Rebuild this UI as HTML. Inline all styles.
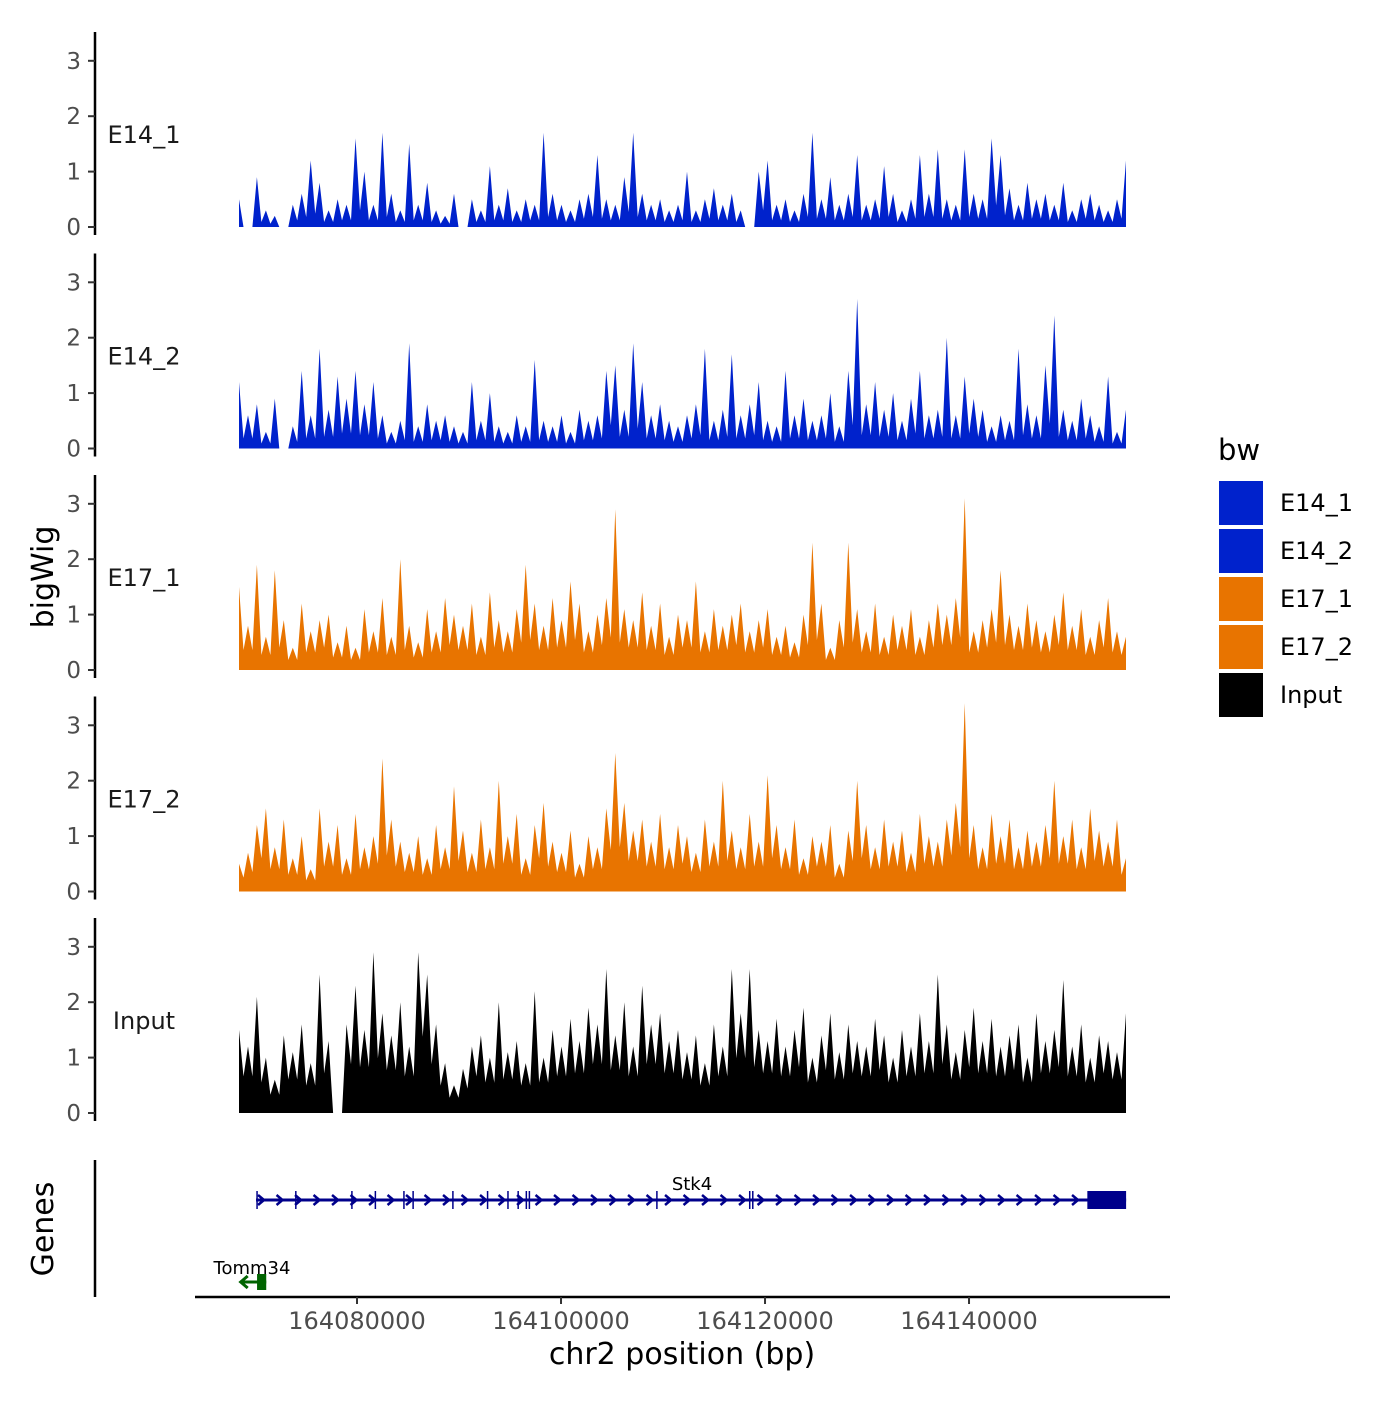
<!DOCTYPE html>
<html><head><meta charset="utf-8"><style>
body{margin:0;background:#fff}
svg{font-family:"DejaVu Sans","Liberation Sans",sans-serif}
</style></head><body>
<svg id="c" width="1400" height="1400" viewBox="0 0 1400 1400"></svg>
<script>
const trackNames=["E14_1","E14_2","E17_1","E17_2","Input"];
const trackColors=["#0022CC","#0022CC","#E87400","#E87400","#000000"];
const yTicks=[0,1,2,3];
const xTicks=[164080000,164100000,164120000,164140000];
const xStartBp=164068430, xEndBp=164155390;
const e14_1=[0.5,0,0.9,0.3,0.2,0,0.4,0.6,1.2,0.8,0.3,0.5,0.4,1.6,1.0,0.4,1.7,0.6,0.3,1.5,0.4,0.8,0.3,0.2,0.6,0,0.5,0.3,1.1,0.4,0.7,0.3,0.5,0.4,1.7,0.6,0.4,0.3,0.5,0.6,1.3,0.5,0.4,0.9,1.7,0.6,0.4,0.5,0.3,0.4,1.0,0.3,0.5,0.7,0.4,0.6,0.3,0,1.0,1.2,0.4,0.5,0.3,0.6,1.7,0.5,0.9,0.4,0.6,1.3,0.4,0.5,1.1,0.6,0.3,0.5,1.3,0.6,1.4,0.5,0.4,1.4,0.6,0.5,1.6,1.3,0.7,0.4,0.8,0.5,0.6,0.4,0.8,0.3,0.5,0.6,0.4,0.3,0.5,1.2];
const e14_2=[1.2,0.6,0.8,0.3,0.9,0,0.4,1.4,0.6,1.8,0.7,1.3,0.9,1.4,0.8,1.2,0.6,0.3,0.5,1.9,0.4,0.8,0.5,0.6,0.4,0.3,1.2,0.5,1.0,0.4,0.3,0.6,0.4,1.6,0.5,0.4,0.6,0.3,0.7,0.5,0.6,1.4,1.5,0.7,1.9,1.2,0.6,0.8,0.5,0.4,0.6,0.8,1.8,0.5,0.7,1.7,0.6,0.8,1.2,0.5,0.4,1.4,0.6,0.9,0.5,0.6,1.0,0.4,1.4,2.7,0.8,1.2,0.7,1.0,0.5,0.9,1.4,0.6,0.7,2.0,0.6,1.3,0.9,0.7,0.4,0.6,0.5,1.8,0.8,0.6,1.5,2.4,0.7,0.5,0.9,0.6,0.4,1.3,0.3,0.7];
const e17_1=[1.5,0.8,1.9,0.6,1.8,0.9,0.4,1.2,0.7,0.9,1.0,0.5,0.8,0.4,1.1,0.7,1.3,0.6,2.0,0.8,0.5,1.1,0.7,1.3,1.0,0.8,1.2,0.6,1.4,0.9,0.7,1.1,1.9,1.2,0.8,1.3,0.9,1.6,1.2,0.7,1.0,1.3,2.9,1.1,0.9,1.4,0.8,1.2,0.6,1.0,0.9,1.6,0.7,1.1,0.8,1.0,1.2,0.7,0.9,1.1,0.6,0.8,0.5,1.0,2.3,1.2,0.4,0.9,2.3,1.1,0.7,1.2,0.6,1.0,0.8,1.1,0.6,0.9,1.2,1.0,1.3,3.1,0.7,0.9,1.1,1.8,1.0,0.8,1.2,0.9,0.7,1.0,1.4,0.8,1.1,0.6,0.9,1.3,0.7,0.6];
const e17_2=[0.5,0.7,1.2,1.5,0.8,1.3,0.6,1.0,0.4,1.5,0.9,1.2,0.6,1.4,0.8,1.0,2.4,1.3,0.9,0.7,1.0,0.6,1.2,0.8,1.9,1.1,0.7,1.3,0.8,2.0,1.0,1.4,0.6,1.2,1.6,0.9,0.7,1.1,0.5,1.0,0.8,1.5,2.5,1.6,1.1,1.3,0.9,1.4,0.8,1.2,1.0,0.7,1.3,0.9,2.0,1.1,0.8,1.4,0.9,2.1,1.2,0.8,1.3,0.6,1.0,0.9,1.2,0.5,1.1,2.0,1.2,0.8,1.3,0.9,1.1,0.7,1.4,1.0,0.9,1.3,1.6,3.4,1.2,0.8,1.4,1.0,1.3,0.8,1.1,0.9,1.2,2.0,1.0,1.3,0.8,1.5,1.1,0.9,1.3,0.6];
const inputVals=[1.5,1.2,2.1,1.0,0.6,1.4,1.1,1.6,0.9,2.5,1.3,0,1.6,2.3,1.5,2.9,1.8,1.4,2.0,1.2,2.9,2.5,1.6,0.9,0.5,0.8,1.2,1.4,1.0,2.0,1.1,1.3,0.9,2.2,1.0,1.5,1.2,1.7,1.3,1.9,1.6,2.6,1.4,2.0,1.2,2.3,1.6,1.8,1.3,1.5,1.1,1.4,0.9,1.6,1.2,2.6,1.8,2.6,1.5,1.3,1.7,1.2,1.5,1.9,1.0,1.4,1.8,1.1,1.6,1.3,1.2,1.7,1.4,1.0,1.5,1.2,1.8,1.3,2.5,1.6,1.1,1.5,1.9,1.3,1.7,1.2,1.4,1.6,1.0,1.8,1.3,1.5,2.4,1.2,1.6,1.0,1.4,1.3,1.1,1.8];
const trackValues=[e14_1,e14_2,e17_1,e17_2,inputVals];
const stk4Exons=[164070200,164074000,164079500,164081800,164084600,164085500,164089400,164092800,164094800,164095800,164096600,164096900,164109400,164118500,164118800];
const stk4Range=[164070100,164155400], stk4Utr=[164151600,164155400];
const tomm34Range=[164068400,164071100], tomm34Thick=[164070200,164071100];

const svg=document.getElementById('c');
const NS='http://www.w3.org/2000/svg';
function mk(t,a,p){const e=document.createElementNS(NS,t);for(const k in a)e.setAttribute(k,a[k]);(p||svg).appendChild(e);return e;}
const X=bp=>239+(bp-xStartBp)*(1126-239)/(xEndBp-xStartBp);
const zeros=[227,448.5,670,891.5,1113], unit=55.4;
const valleyFrac=[0.3,0.3,0.45,0.5,0.55];

trackNames.forEach((nm,t)=>{
  const g=mk('g',{});
  
  
  const z=zeros[t], Y=v=>z-v*unit;
  const ax=mk('line',{x1:95,x2:95,y1:z-195,y2:z+8,stroke:'#000','stroke-width':2.5},g);
  
  
  yTicks.forEach(v=>{
    mk('line',{x1:88,x2:95,y1:Y(v),y2:Y(v),stroke:'#333','stroke-width':2},g);
    const tx=mk('text',{x:81,y:Y(v)+8,'text-anchor':'end','font-size':23,fill:'#4d4d4d'},g);
    tx.textContent=v;
    
    
  });
  const lb=mk('text',{x:144,y:z-84,'text-anchor':'middle','font-size':24,fill:'#1a1a1a'},g);
  lb.textContent=nm;
  
  
  const vals=trackValues[t], n=vals.length;
  const xs=i=>X(xStartBp+(xEndBp-xStartBp)*i/(n-1));
  let d='M'+xs(0)+','+z;
  vals.forEach((v,i)=>{
    if(i>0){const m=Math.min(v,vals[i-1])*valleyFrac[t];d+=' L'+((xs(i)+xs(i-1))/2).toFixed(1)+','+Y(m).toFixed(1);}
    d+=' L'+xs(i).toFixed(1)+','+Y(v).toFixed(1);
  });
  d+=' L'+xs(n-1)+','+z+' Z';
  const a=mk('path',{d:d,fill:trackColors[t]},g);
  
  
});

// genes panel
const ga=mk('line',{x1:95,x2:95,y1:1160,y2:1297,stroke:'#000','stroke-width':2.5});


const sg=mk('g',{});


mk('line',{x1:X(stk4Range[0]),x2:X(stk4Range[1]),y1:1200,y2:1200,stroke:'#00008B','stroke-width':3},sg);
for(let x=X(stk4Range[0])+5;x<X(stk4Utr[0])-5;x+=18.5){mk('path',{d:`M${x-3},${1195} L${x+3},1200 L${x-3},1205`,fill:'none',stroke:'#00008B','stroke-width':2.5},sg);}
stk4Exons.forEach(b=>mk('line',{x1:X(b),x2:X(b),y1:1191,y2:1209,stroke:'#00008B','stroke-width':1.5},sg));
mk('rect',{x:X(stk4Utr[0]),y:1191,width:X(stk4Utr[1])-X(stk4Utr[0]),height:18,fill:'#00008B'},sg);
const st=mk('text',{x:692,y:1190,'text-anchor':'middle','font-size':18,fill:'#000'},sg);st.textContent='Stk4';
const tg=mk('g',{});


mk('line',{x1:X(tomm34Range[0])+2,x2:X(tomm34Range[1]),y1:1282,y2:1282,stroke:'#006400','stroke-width':3},tg);
mk('path',{d:`M${X(tomm34Range[0])+9},1276 L${X(tomm34Range[0])+2},1282 L${X(tomm34Range[0])+9},1288`,fill:'none',stroke:'#006400','stroke-width':3},tg);
mk('rect',{x:X(tomm34Thick[0]),y:1274,width:X(tomm34Thick[1])-X(tomm34Thick[0]),height:16,fill:'#006400'},tg);
const tt=mk('text',{x:252,y:1274,'text-anchor':'middle','font-size':18,fill:'#000'},tg);tt.textContent='Tomm34';

// x axis
const xa=mk('line',{x1:195,x2:1170,y1:1297,y2:1297,stroke:'#000','stroke-width':2.5});


xTicks.forEach(b=>{
  mk('line',{x1:X(b),x2:X(b),y1:1297,y2:1304,stroke:'#333','stroke-width':2});
  const tx=mk('text',{x:X(b),y:1329,'text-anchor':'middle','font-size':24,fill:'#4d4d4d'});
  tx.textContent=b;
  
  
});
const xt=mk('text',{x:682,y:1364,'text-anchor':'middle','font-size':30,fill:'#000'});xt.textContent='chr2 position (bp)';

const yt=mk('text',{x:0,y:0,transform:'translate(53,577) rotate(-90)','text-anchor':'middle','font-size':30,fill:'#000'});yt.textContent='bigWig';

const gt=mk('text',{x:0,y:0,transform:'translate(53,1229) rotate(-90)','text-anchor':'middle','font-size':30,fill:'#000'});gt.textContent='Genes';


// legend
const lg=mk('g',{});


const lt=mk('text',{x:1218,y:460,'font-size':29,fill:'#000'},lg);lt.textContent='bw';
trackNames.forEach((nm,i)=>{
  const e=mk('g',{},lg);
  
  
  mk('rect',{x:1219,y:481+i*48,width:44,height:44,fill:trackColors[i]},e);
  const tx=mk('text',{x:1280,y:511+i*48,'font-size':24,fill:'#000'},e);tx.textContent=nm;
});
</script>
</body></html>
